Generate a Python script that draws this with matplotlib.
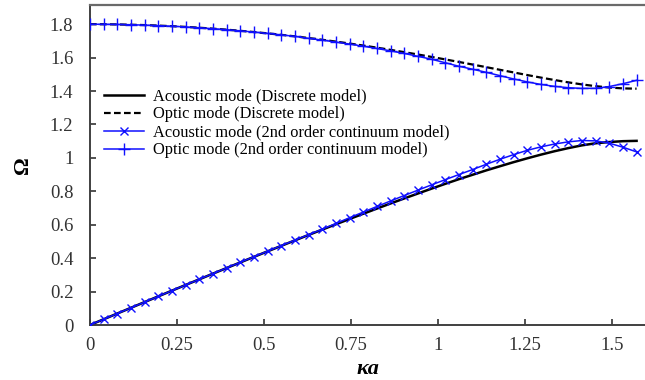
import matplotlib
matplotlib.use("Agg")
import matplotlib.pyplot as plt

# wavenumber ka, 0 .. pi/2
ka = [0, 0.0393, 0.0785, 0.1178, 0.1571, 0.1963, 0.2356, 0.2749, 0.3142, 0.3534,
      0.3927, 0.4320, 0.4712, 0.5105, 0.5498, 0.5890, 0.6283, 0.6676, 0.7069, 0.7461,
      0.7854, 0.8247, 0.8639, 0.9032, 0.9425, 0.9817, 1.0210, 1.0603, 1.0996, 1.1388,
      1.1781, 1.2174, 1.2566, 1.2959, 1.3352, 1.3744, 1.4137, 1.4530, 1.4923, 1.5315,
      1.5708]

acoustic_discrete = [0.0000, 0.0344, 0.0687, 0.1030, 0.1373, 0.1715, 0.2056, 0.2396, 0.2735, 0.3073,
                     0.3410, 0.3745, 0.4078, 0.4409, 0.4738, 0.5065, 0.5390, 0.5711, 0.6030, 0.6346,
                     0.6659, 0.6968, 0.7273, 0.7574, 0.7870, 0.8161, 0.8448, 0.8728, 0.8990, 0.9253,
                     0.9500, 0.9745, 0.9975, 1.0195, 1.0400, 1.0585, 1.0750, 1.0875, 1.0950, 1.1000,
                     1.1020]

optic_discrete = [1.8000, 1.7997, 1.7987, 1.7970, 1.7948, 1.7918, 1.7882, 1.7840, 1.7791, 1.7735,
                  1.7674, 1.7606, 1.7532, 1.7452, 1.7365, 1.7273, 1.7174, 1.7070, 1.6960, 1.6844,
                  1.6723, 1.6597, 1.6465, 1.6329, 1.6188, 1.6043, 1.5894, 1.5742, 1.5587, 1.5430,
                  1.5272, 1.5115, 1.4958, 1.4806, 1.4659, 1.4522, 1.4398, 1.4294, 1.4211, 1.4160,
                  1.4142]

acoustic_cont = [0.0000, 0.0344, 0.0687, 0.1030, 0.1374, 0.1716, 0.2058, 0.2398, 0.2738, 0.3077,
                 0.3415, 0.3751, 0.4086, 0.4418, 0.4749, 0.5078, 0.5406, 0.5731, 0.6080, 0.6421,
                 0.6759, 0.7093, 0.7423, 0.7749, 0.8070, 0.8386, 0.8698, 0.9003, 0.9302, 0.9618,
                 0.9917, 1.0195, 1.0453, 1.0660, 1.0830, 1.0960, 1.1040, 1.1020, 1.0880, 1.0640,
                 1.0360]

optic_cont = [1.8000, 1.7997, 1.7987, 1.7970, 1.7947, 1.7917, 1.7881, 1.7838, 1.7789, 1.7733,
              1.7672, 1.7604, 1.7530, 1.7450, 1.7363, 1.7271, 1.7154, 1.7050, 1.6930, 1.6814,
              1.6683, 1.6547, 1.6405, 1.6249, 1.6078, 1.5903, 1.5694, 1.5482, 1.5307, 1.5120,
              1.4922, 1.4725, 1.4548, 1.4396, 1.4279, 1.4202, 1.4158, 1.4164, 1.4271, 1.4440,
              1.4642]

labels = ["Acoustic mode (Discrete model)", "Optic mode (Discrete model)",
          "Acoustic mode (2nd order continuum model)", "Optic mode (2nd order continuum model)"]

xticks = [0, 0.25, 0.5, 0.75, 1, 1.25, 1.5]
xticklabels = ["0", "0.25", "0.5", "0.75", "1", "1.25", "1.5"]
yticks = [0, 0.2, 0.4, 0.6, 0.8, 1.0, 1.2, 1.4, 1.6, 1.8]
yticklabels = ["0", "0.2", "0.4", "0.6", "0.8", "1", "1.2", "1.4", "1.6", "1.8"]

plt.rcParams['font.family'] = ['Liberation Serif', 'DejaVu Serif']

fig = plt.figure(figsize=(6.45, 3.8), dpi=100)
ax = fig.add_axes([90 / 645, 55 / 380, 555 / 645, 320 / 380])

ax.plot(ka, acoustic_discrete, color='black', lw=1.8, label=labels[0], zorder=2)
ax.plot(ka, optic_discrete, color='black', lw=1.6, ls=(0, (3, 1.5)), label=labels[1], zorder=2)
ax.plot(ka, acoustic_cont, color='#1010ff', lw=1.1, marker='x', ms=5.5, mew=1.0,
        label=labels[2], zorder=3)
ax.plot(ka, optic_cont, color='#1010ff', lw=1.1, marker='+', ms=8, mew=1.0,
        label=labels[3], zorder=3)

ax.set_xlim(0, 1.595)
ax.set_ylim(0, 1.915)
ax.set_xticks(xticks)
ax.set_xticklabels(xticklabels)
ax.set_yticks(yticks)
ax.set_yticklabels(yticklabels)
ax.tick_params(direction='in', length=4, width=1.2, labelsize=13.5, colors='#333333',
               pad=9)
ax.tick_params(axis='y', pad=12)

for side in ['left', 'bottom']:
    ax.spines[side].set_color('#404040')
    ax.spines[side].set_linewidth(1.4)
ax.spines['top'].set_color('#6a6a6a')
ax.spines['top'].set_linewidth(1.6)
ax.spines['right'].set_visible(False)

ax.set_xlabel('κa', fontsize=16, fontweight='bold', fontstyle='italic', labelpad=3)
ax.set_ylabel('Ω', fontsize=16, fontweight='bold', labelpad=12)

ax.legend(loc='upper left', bbox_to_anchor=(0.005, 0.775), frameon=False, fontsize=11.8,
          handlelength=2.45, handletextpad=0.55, labelspacing=0.12, numpoints=1,
          borderpad=0.2)

fig.savefig('out.png', dpi=100)
